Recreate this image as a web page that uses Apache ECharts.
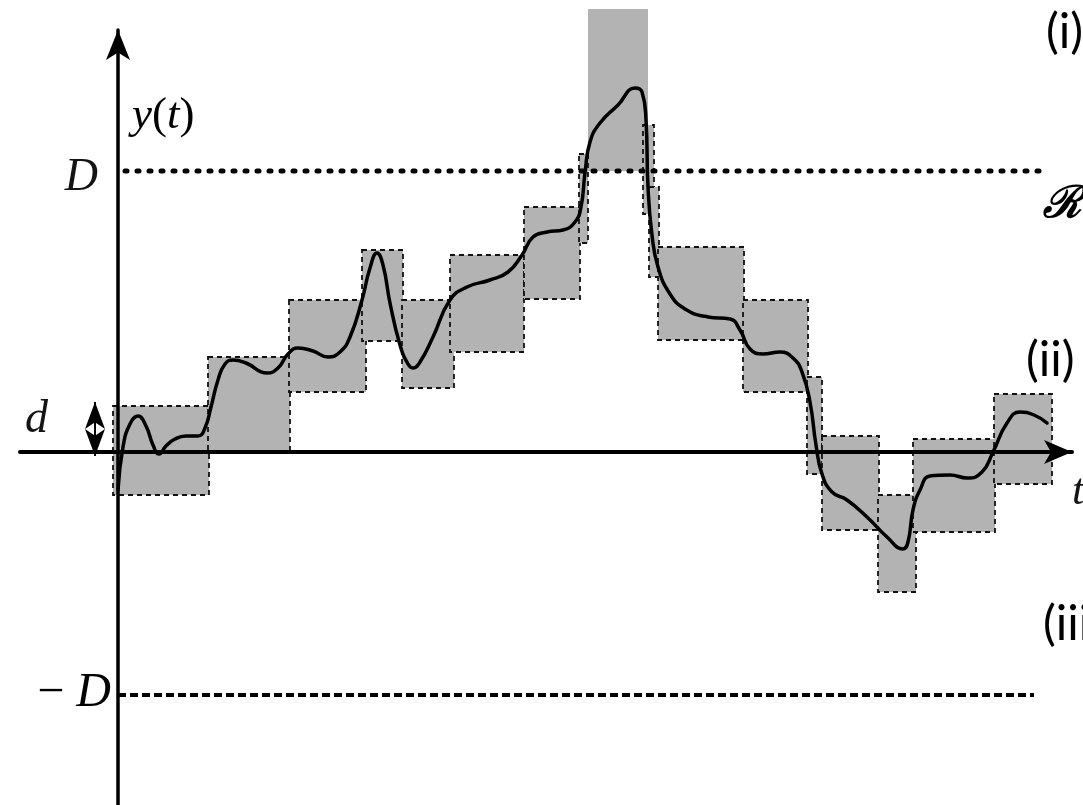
<!DOCTYPE html>
<html>
<head>
<meta charset="utf-8">
<script src="https://cdn.jsdelivr.net/npm/echarts/dist/echarts.min.js"></script>
<style>
  html, body { margin: 0; padding: 0; background: #fff; }
  #chart { width: 1083px; height: 805px; }
</style>
</head>
<body>
<div id="chart"></div>
<script>
// Signal trajectory y(t) (time t on x, amplitude on y)
const curveT = [0, 5, 12, 20, 28, 35, 41, 48, 57, 68, 80, 87, 93, 100, 107, 115, 128, 149, 160, 170,
  180, 195, 210, 222, 232, 244, 252, 259, 265, 272, 282, 290, 295, 302, 315, 332, 349, 372, 390,
  404, 415, 429, 445, 457, 463, 467, 472, 482, 500, 517, 524, 528, 530, 534, 540, 552, 567, 590,
  612, 622, 632, 645, 662, 675, 684, 692, 698, 704, 714, 729, 749, 769, 785, 790, 795, 802, 812,
  832, 849, 864, 875, 889, 902, 916, 929];
const curveY = [-38, 5, 28, 36, 26, 7, -2, 6, 13, 16, 16, 24, 45, 72, 88, 92, 89, 79, 84, 98,
  104, 101, 95, 100, 115, 152, 184, 199, 187, 149, 107, 88, 84, 90, 115, 152, 165, 172, 180,
  197, 215, 220, 222, 230, 245, 279, 310, 329, 347, 364, 360, 332, 265, 217, 185, 158, 143, 135,
  133, 122, 103, 98, 100, 94, 80, 50, 7, -22, -40, -48, -65, -85, -97, -90, -58, -38, -24,
  -23, -26, -20, 0, 29, 40, 37, 29];

// Sampling cells: time span [t0, t1] and tolerance band [lo, hi]
const cellT0 = [-5, 90, 171, 244, 284, 332, 406, 461, 525, 531, 540, 625, 689, 704, 760, 795, 876];
const cellT1 = [91, 172, 248, 285, 336, 406, 462, 470, 536, 541, 626, 690, 704, 761, 798, 877, 934];
const cellLo = [-43, 0, 60, 111, 64, 100, 153, 209, 238, 175, 112, 60, -22, -78, -140, -80, -32];
const cellHi = [46, 95, 152, 202, 152, 197, 245, 298, 327, 265, 205, 152, 75, 16, -43, 13, 58];

// Region above the upper bound reached by the spike
const escapeT = [470, 530];
const escapeY = [281, 443];

// Bounds and band half-width
const boundUpper = 281;
const boundLower = -243;
const bandHalf = 50;
const boundSpanT = [7, 924];
const lowerSpanT = [0, 916];

const chart = echarts.init(document.getElementById('chart'), null, { renderer: 'canvas' });

const cellData = cellT0.map((t, i) => [t, cellT1[i], cellLo[i], cellHi[i]]);
const curveData = curveT.map((t, i) => [t, curveY[i]]);

function rectItem(dashed) {
  return function (params, api) {
    const a = api.coord([api.value(0), api.value(3)]);
    const b = api.coord([api.value(1), api.value(2)]);
    return {
      type: 'rect',
      shape: { x: a[0], y: a[1], width: b[0] - a[0], height: b[1] - a[1] },
      style: dashed
        ? { fill: '#b3b3b3', stroke: '#111', lineWidth: 1.8, lineDash: [5, 4] }
        : { fill: '#b3b3b3', stroke: null }
    };
  };
}

const serifI = { fontFamily: 'Liberation Serif', fontStyle: 'italic', color: '#141414' };
const serifN = { fontFamily: 'Liberation Serif', fontStyle: 'normal', color: '#141414' };

chart.setOption({
  animation: false,
  grid: { left: 20, right: 11, top: 30, bottom: 0, containLabel: false },
  xAxis: {
    type: 'value', min: -98, max: 954, z: 3,
    axisLine: { onZero: true, symbol: ['none', 'arrow'], symbolSize: [18, 28],
      lineStyle: { color: '#000', width: 4 } },
    axisTick: { show: false }, axisLabel: { show: false }, splitLine: { show: false }
  },
  yAxis: {
    type: 'value', min: -353, max: 422, z: 3,
    axisLine: { onZero: true, symbol: ['none', 'arrow'], symbolSize: [18, 30],
      lineStyle: { color: '#000', width: 3.5 } },
    axisTick: { show: false }, axisLabel: { show: false }, splitLine: { show: false }
  },
  series: [
    {
      type: 'custom', name: 'escape', z: 1, clip: false,
      renderItem: rectItem(false),
      encode: { x: [0, 1], y: [2, 3] },
      data: [[escapeT[0], escapeT[1], escapeY[0], escapeY[1]]]
    },
    {
      type: 'custom', name: 'cells', z: 1, clip: false,
      renderItem: rectItem(true),
      encode: { x: [0, 1], y: [2, 3] },
      data: cellData
    },
    {
      type: 'line', name: 'upper', z: 3, symbol: 'none', silent: true,
      lineStyle: { color: '#000', width: 5, type: [2, 10], cap: 'round' },
      data: [[boundSpanT[0], boundUpper], [boundSpanT[1], boundUpper]]
    },
    {
      type: 'line', name: 'lower', z: 3, symbol: 'none', silent: true,
      lineStyle: { color: '#000', width: 4, type: [8, 4], cap: 'butt' },
      data: [[lowerSpanT[0], boundLower], [lowerSpanT[1], boundLower]]
    },
    {
      type: 'line', name: 'y(t)', z: 4, symbol: 'none', smooth: 0.5,
      lineStyle: { color: '#000', width: 3.5, cap: 'round', join: 'round' },
      data: curveData,
      markLine: {
        silent: true, symbol: ['arrow', 'arrow'], symbolSize: [15, 27],
        label: { show: false },
        lineStyle: { color: '#000', width: 2, type: 'solid' },
        data: [[{ coord: [-23, -4] }, { coord: [-23, bandHalf] }]]
      }
    }
  ]
});

// Text annotations placed from the axis scales
const px = (t, y) => chart.convertToPixel({ gridIndex: 0 }, [t, y]);
const pUp = px(0, boundUpper);
const pLo = px(0, boundLower);
const pBand = px(0, bandHalf / 2);
const pOrigin = px(0, 0);

chart.setOption({
  graphic: [
    { type: 'text', x: 132, y: 116, z: 10,
      style: { text: '{i|y}{n|(}{i|t}{n|)}', verticalAlign: 'middle',
        rich: { i: Object.assign({ fontSize: 45 }, serifI), n: Object.assign({ fontSize: 45 }, serifN) } } },
    { type: 'text', x: pUp[0] - 20, y: pUp[1] + 7, z: 10,
      style: { text: 'D', align: 'right', verticalAlign: 'middle',
        font: 'italic 46px "Liberation Serif"', fill: '#141414' } },
    { type: 'text', x: 48, y: pBand[1] - 7, z: 10,
      style: { text: 'd', align: 'right', verticalAlign: 'middle',
        font: 'italic 46px "Liberation Serif"', fill: '#141414' } },
    { type: 'text', x: pLo[0] - 7, y: pLo[1] - 2, z: 10,
      style: { text: '{n|\u2212 }{i|D}', align: 'right', verticalAlign: 'middle',
        rich: { i: Object.assign({ fontSize: 48 }, serifI), n: Object.assign({ fontSize: 48 }, serifN) } } },
    { type: 'text', x: 1072, y: pOrigin[1] + 40, z: 10,
      style: { text: 't', verticalAlign: 'middle',
        font: 'italic 44px "Liberation Serif"', fill: '#141414' } },
    { type: 'text', x: 1046, y: 33, z: 10,
      style: { text: '(i)', verticalAlign: 'middle', font: '48px Lato', fill: '#000' } },
    { type: 'text', x: 1043, y: 206, z: 10,
      style: { text: '\u211B', verticalAlign: 'middle', font: 'bold italic 44px "DejaVu Serif"', fill: '#000' } },
    { type: 'text', x: 1026, y: 361, z: 10,
      style: { text: '(ii)', verticalAlign: 'middle', font: '48px Lato', fill: '#000' } },
    { type: 'text', x: 1043, y: 625, z: 10,
      style: { text: '(iii)', verticalAlign: 'middle', font: '48px Lato', fill: '#000' } }
  ]
});
</script>
</body>
</html>
